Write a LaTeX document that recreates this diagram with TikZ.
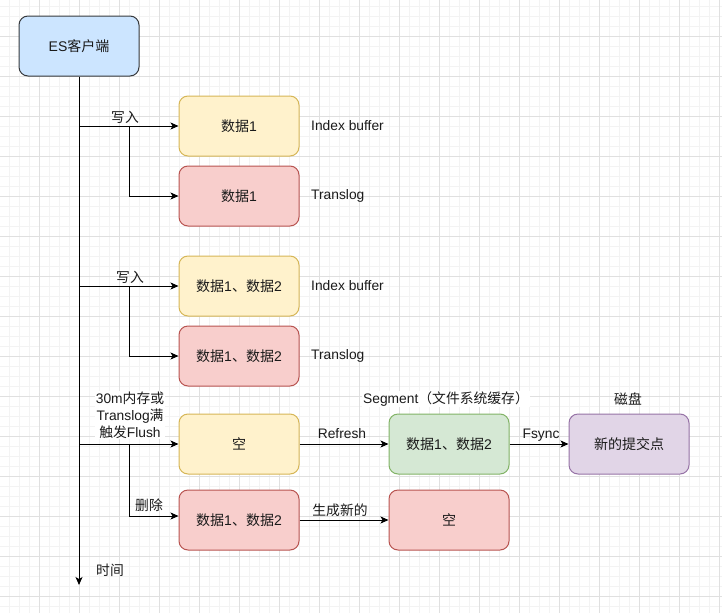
\documentclass[tikz,border=0pt]{standalone}
\usepackage{fontspec}
\setmainfont{Liberation Sans}
\newfontfamily\cjk{Noto Sans CJK SC}
\newcommand\zh[1]{{\cjk #1}}
\usetikzlibrary{arrows.meta}
\definecolor{esfill}{HTML}{CCE5FF}
\definecolor{esline}{HTML}{36393D}
\definecolor{yfill}{HTML}{FFF2CC}
\definecolor{yline}{HTML}{D6B656}
\definecolor{rfill}{HTML}{F8CECC}
\definecolor{rline}{HTML}{B85450}
\definecolor{gfill}{HTML}{D5E8D4}
\definecolor{gline}{HTML}{82B366}
\definecolor{pfill}{HTML}{E1D5E7}
\definecolor{pline}{HTML}{9673A6}
\definecolor{gridminor}{HTML}{F3F3F3}
\definecolor{gridmajor}{HTML}{E0E0E0}
\definecolor{txt}{HTML}{1A1A1A}
\begin{document}
\begin{tikzpicture}[x=1pt,y=-1pt,
  box/.style={draw, rounded corners=9pt, minimum width=120pt, minimum height=60pt,
    line width=1pt, inner sep=0pt, font=\fontsize{14}{16}\selectfont, text=txt},
  ybox/.style={box, fill=yfill, draw=yline},
  rbox/.style={box, fill=rfill, draw=rline},
  lbl/.style={font=\fontsize{13.8}{17}\selectfont, text=txt, inner sep=1pt},
  arr/.style={line width=1pt, -{Stealth[length=8pt,width=7pt,inset=2pt]}},
  ln/.style={line width=1pt}]
\useasboundingbox (0,0) rectangle (722,613);
\fill[white] (0,0) rectangle (722,613);
% grid
\foreach \x in {9,19,...,719} \draw[gridminor, line width=0.8pt] (\x,0) -- (\x,613);
\foreach \y in {6,16,...,606} \draw[gridminor, line width=0.8pt] (0,\y) -- (722,\y);
\foreach \x in {39,79,...,719} \draw[gridmajor, line width=0.8pt] (\x,0) -- (\x,613);
\foreach \y in {36,76,...,596} \draw[gridmajor, line width=0.8pt] (0,\y) -- (722,\y);

% nodes
\node[box, fill=esfill, draw=esline] (es) at (79,46) {ES\zh{客户端}};
\node[ybox] (y1) at (239,126) {\zh{数据}1};
\node[rbox] (r1) at (239,196) {\zh{数据}1};
\node[ybox] (y2) at (239,286) {\zh{数据}1\zh{、数据}2};
\node[rbox] (r2) at (239,356) {\zh{数据}1\zh{、数据}2};
\node[ybox] (e1) at (239,444) {\zh{空}};
\node[rbox] (d3) at (239,520) {\zh{数据}1\zh{、数据}2};
\node[box, fill=gfill, draw=gline] (seg) at (449,444) {\zh{数据}1\zh{、数据}2};
\node[box, fill=pfill, draw=pline] (disk) at (629,444) {\zh{新的提交点}};
\node[rbox] (e2) at (449,520) {\zh{空}};

% side labels
\node[lbl, anchor=west] (ib1) at (310,126) {Index buffer};
\node[lbl, anchor=west] (tl1) at (310,196) {Translog};
\node[lbl, anchor=west] (ib2) at (310,286) {Index buffer};
\node[lbl, anchor=west] (tl2) at (310,356) {Translog};
\node[lbl, fill=white] (seglbl) at (446,399) {Segment\zh{（文件系统缓存）}};
\node[lbl] (disklbl) at (628,399) {\zh{磁盘}};

% timeline
\coordinate (tend) at (79,585);
\draw[arr] (es.south) -- (tend);
\node[lbl] (time) at (110,570) {\zh{时间}};

% group 1
\coordinate (j1) at (129,126);
\draw[arr] (es.south |- y1.west) -- (y1.west);
\draw[arr] (j1) |- (r1.west);
\node[lbl] (w1) at (125,117) {\zh{写入}};

% group 2
\coordinate (j2) at (129,286);
\draw[arr] (es.south |- y2.west) -- (y2.west);
\draw[arr] (j2) |- (r2.west);
\node[lbl] (w2) at (130,277) {\zh{写入}};

% group 3
\coordinate (j3) at (129,444);
\draw[arr] (es.south |- e1.west) -- (e1.west);
\draw[arr] (j3) |- ([yshift=4pt]d3.west);
\node[lbl, fill=white, align=center] (flush) at (130,415) {30m\zh{内存或}\\Translog\zh{满}\\\zh{触发}Flush};
\node[lbl] (del) at (149,505) {\zh{删除}};

\draw[arr] (e1.east) -- (seg.west);
\node[lbl] (refresh) at (342,434) {Refresh};
\draw[arr] (seg.east) -- (disk.west);
\node[lbl] (fsync) at (541,435) {Fsync};
\draw[arr] (d3.east) -- (e2.west);
\node[lbl] (gen) at (340,510) {\zh{生成新的}};
\end{tikzpicture}
\end{document}
